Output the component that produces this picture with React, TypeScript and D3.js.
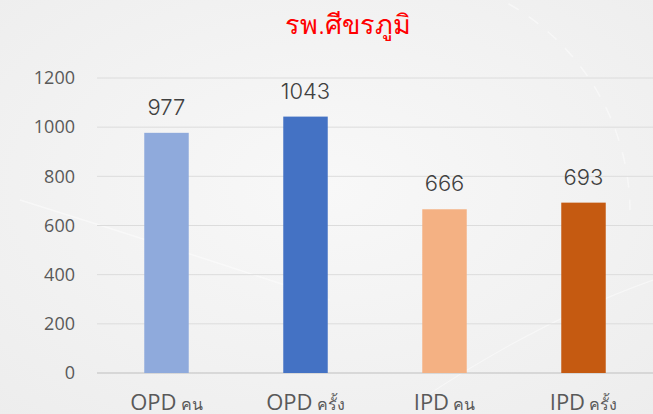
import React, { useEffect, useRef } from "react";
import * as d3 from "d3";

const categories = ["OPD|คน", "OPD|ครั้ง", "IPD|คน", "IPD|ครั้ง"];
const values = [977, 1043, 666, 693];
const colors = ["#8faadc", "#4472c4", "#f4b183", "#c55a11"];
const yTicks = [0, 200, 400, 600, 800, 1000, 1200];
const title = "รพ.ศีขรภูมิ";

const App = () => {
  const ref = useRef<SVGSVGElement>(null);

  useEffect(() => {
    const svg = d3.select(ref.current);
    svg.selectAll("*").remove();
    const width = 653;
    const height = 414;
    const margin = { top: 78, right: 0, bottom: 41, left: 97 };
    const innerHeight = height - margin.top - margin.bottom;

    // background
    const defs = svg.append("defs");
    const grad = defs
      .append("radialGradient")
      .attr("id", "bg")
      .attr("cx", "50%")
      .attr("cy", "45%")
      .attr("r", "75%");
    grad.append("stop").attr("offset", "0%").attr("stop-color", "#f8f8f8");
    grad.append("stop").attr("offset", "100%").attr("stop-color", "#ededed");
    svg.append("rect").attr("width", width).attr("height", height).attr("fill", "url(#bg)");

    // faint decorative arcs
    const deco = svg.append("g").attr("fill", "none").attr("stroke", "#ffffff").attr("opacity", 0.45);
    deco.append("path").attr("d", "M 300 -10 A 240 240 0 0 1 630 210").attr("stroke-width", 1.5).attr("stroke-dasharray", "12 12");
    deco.append("path").attr("d", "M 20 200 Q 180 250 330 300").attr("stroke-width", 1.5);
    deco.append("path").attr("d", "M 420 400 Q 540 320 653 280").attr("stroke-width", 1.2);

    const x = d3
      .scaleBand()
      .domain(categories)
      .range([margin.left, width - margin.right])
      .paddingInner(0.68)
      .paddingOuter(0.34);

    const y = d3
      .scaleLinear()
      .domain([0, 1200])
      .range([margin.top + innerHeight, margin.top]);

    // gridlines
    svg
      .append("g")
      .selectAll("line")
      .data(yTicks)
      .enter()
      .append("line")
      .attr("x1", margin.left)
      .attr("x2", width)
      .attr("y1", (d) => y(d))
      .attr("y2", (d) => y(d))
      .attr("stroke", (d) => (d === 0 ? "#cfcfcf" : "#dcdcdc"))
      .attr("stroke-width", (d) => (d === 0 ? 1.5 : 1));

    // y tick labels
    svg
      .append("g")
      .selectAll("text")
      .data(yTicks)
      .enter()
      .append("text")
      .attr("x", 75)
      .attr("y", (d) => y(d))
      .attr("dy", "0.35em")
      .attr("text-anchor", "end")
      .attr("font-family", "'Open Sans', sans-serif")
      .attr("font-size", 18)
      .attr("fill", "#595959")
      .text((d) => d);

    // bars
    svg
      .append("g")
      .selectAll("rect")
      .data(categories)
      .enter()
      .append("rect")
      .attr("x", (d) => x(d)!)
      .attr("y", (d, i) => y(values[i]))
      .attr("width", x.bandwidth())
      .attr("height", (d, i) => y(0) - y(values[i]))
      .attr("fill", (d, i) => colors[i]);

    // value labels
    svg
      .append("g")
      .selectAll("text")
      .data(categories)
      .enter()
      .append("text")
      .attr("x", (d) => x(d)! + x.bandwidth() / 2)
      .attr("y", (d, i) => y(values[i]) - 18)
      .attr("text-anchor", "middle")
      .attr("font-family", "Inter, sans-serif")
      .attr("font-weight", 300)
      .attr("font-size", 22)
      .attr("fill", "#404040")
      .text((d, i) => values[i]);

    // x labels
    const xl = svg
      .append("g")
      .selectAll("text")
      .data(categories)
      .enter()
      .append("text")
      .attr("x", (d) => x(d)! + x.bandwidth() / 2)
      .attr("y", 410)
      .attr("text-anchor", "middle")
      .attr("fill", "#595959")
      .attr("font-family", "'Open Sans', sans-serif");
    xl.append("tspan")
      .attr("font-size", 22)
      .text((d) => d.split("|")[0]);
    xl.append("tspan")
      .attr("font-size", 16)
      .attr("font-family", "'Noto Sans', sans-serif")
      .text((d) => " " + d.split("|")[1]);

    // title
    svg
      .append("text")
      .attr("x", 348)
      .attr("y", 34)
      .attr("text-anchor", "middle")
      .attr("font-family", "'Noto Sans', sans-serif")
      .attr("font-weight", 300)
      .attr("font-size", 27)
      .attr("fill", "#ff0000")
      .text(title);
  }, []);

  return (
    <svg
      ref={ref}
      width={653}
      height={414}
      style={{ position: "absolute", left: 0, top: 0, display: "block" }}
    ></svg>
  );
};

export default App;
